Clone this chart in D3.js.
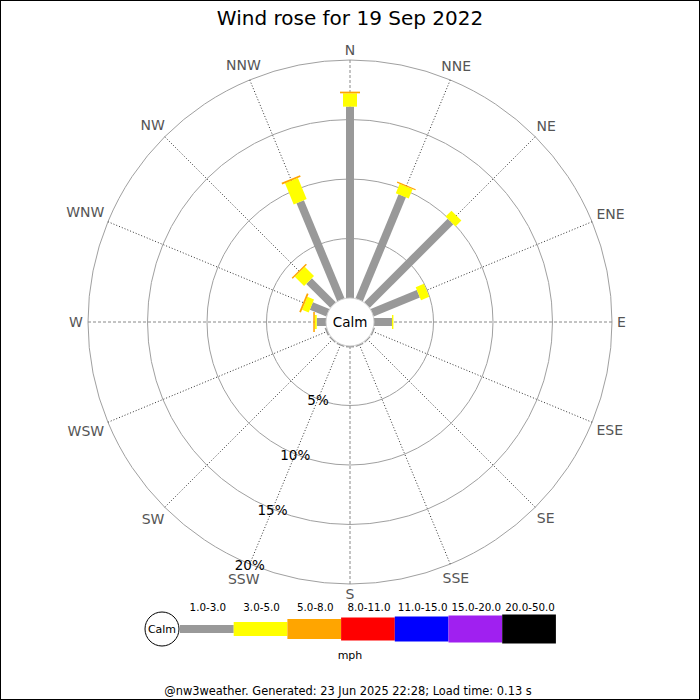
<!DOCTYPE html>
<html>
<head>
<meta charset="utf-8">
<script src="https://cdn.jsdelivr.net/npm/d3@7"></script>
<style>
  html, body { margin: 0; padding: 0; background: #fff; }
  svg { display: block; font-family: "DejaVu Sans", sans-serif; }
</style>
</head>
<body>
<svg id="chart" width="700" height="700"></svg>
<script>
// ---- data ----
const directions = ["N","NNE","NE","ENE","E","ESE","SE","SSE","S","SSW","SW","WSW","W","WNW","NW","NNW"];
const speedBands = ["1.0-3.0","3.0-5.0","5.0-8.0","8.0-11.0","11.0-15.0","15.0-20.0","20.0-50.0"];
const bandColors = ["#999999","#ffff00","#ffa500","#ff0000","#0000ff","#a020f0","#000000"];
// percentages per direction for each speed band
const band1 = [16.08, 9.46, 9.93, 4.2, 1.51, 0.12, 0.1, 0.12, 0.12, 0.12, 0.12, 0.15, 0.78, 1.5, 2.85, 8.92];
const band2 = [1.12, 0.85, 0.7, 0.75, 0.12, 0, 0, 0, 0, 0, 0, 0, 0.16, 0.6, 1.1, 1.92];
const band3 = [0.14, 0.1, 0, 0, 0, 0, 0, 0, 0, 0, 0, 0, 0.13, 0.15, 0.12, 0.15];
const band4 = new Array(16).fill(0);
const band5 = new Array(16).fill(0);
const band6 = new Array(16).fill(0);
const band7 = new Array(16).fill(0);
const ringTicks = [5, 10, 15, 20];
const ringLabels = ["5%", "10%", "15%", "20%"];
const titleText = "Wind rose for 19 Sep 2022";
const footerText = "@nw3weather. Generated: 23 Jun 2025 22:28; Load time: 0.13 s";
const unitText = "mph";
const calmText = "Calm";

// ---- layout ----
const svg = d3.select("#chart");
const W = 700, H = 700;
const cx = 350, cy = 322;
const calmR = 24;
const r = d3.scaleLinear().domain([0, 20]).range([calmR, 262]);
const angle = d3.scalePoint().domain(directions).range([0, 360 - 22.5]);
const bandWidths = [8, 14, 20, 23, 25, 27, 29];
const bands = [band1, band2, band3, band4, band5, band6, band7];

svg.append("rect").attr("x", 0).attr("y", 0).attr("width", W).attr("height", H).attr("fill", "#fff");

// title
svg.append("text").attr("x", cx).attr("y", 25).attr("text-anchor", "middle")
  .attr("font-size", 20).attr("fill", "#000").text(titleText);

const g = svg.append("g").attr("transform", `translate(${cx},${cy})`);

// rings
g.selectAll("circle.ring").data(ringTicks).enter().append("circle")
  .attr("class", "ring").attr("r", d => r(d))
  .attr("fill", "none").attr("stroke", "#a0a0a0").attr("stroke-width", 1);

// spokes
const rad = a => (a - 90) * Math.PI / 180;
directions.forEach((d, i) => {
  const a = angle(d);
  const cardinal = i % 4 === 0;
  g.append("line")
    .attr("x1", calmR * Math.cos(rad(a))).attr("y1", calmR * Math.sin(rad(a)))
    .attr("x2", r(20) * Math.cos(rad(a))).attr("y2", r(20) * Math.sin(rad(a)))
    .attr("stroke", cardinal ? "#888" : "#333")
    .attr("stroke-width", 1)
    .attr("stroke-dasharray", cardinal ? "3,2" : "1,2");
});

// bars
directions.forEach((d, i) => {
  const a = angle(d);
  const bg = g.append("g").attr("transform", `rotate(${a})`);
  let cum = 0;
  bands.forEach((b, k) => {
    const v = b[i];
    if (v > 0) {
      const r0 = r(cum), r1 = r(cum + v);
      bg.append("rect")
        .attr("x", -bandWidths[k] / 2).attr("y", -r1)
        .attr("width", bandWidths[k]).attr("height", r1 - r0)
        .attr("fill", bandColors[k]);
      cum += v;
    }
  });
});

// calm circle
g.append("circle").attr("r", calmR).attr("fill", "#fff").attr("stroke", "#ccc").attr("stroke-width", 1);
g.append("text").attr("x", 0).attr("y", 5).attr("text-anchor", "middle")
  .attr("font-size", 13.5).attr("fill", "#000").text(calmText);

// ring labels along SSW
const la = angle("SSW");
ringTicks.forEach((t, i) => {
  const rr = r(t);
  g.append("text")
    .attr("x", rr * Math.cos(rad(la))).attr("y", rr * Math.sin(rad(la)) + 6)
    .attr("text-anchor", "middle").attr("font-size", 13.5).attr("fill", "#000")
    .text(ringLabels[i]);
});

// direction labels
directions.forEach(d => {
  const a = angle(d);
  const t = g.append("text").attr("font-size", 14).attr("fill", "#555")
    .attr("text-anchor", "middle").text(d);
  const bb = t.node().getBBox();
  const hw = bb.width / 2, hh = 5;
  const s = Math.sin(a * Math.PI / 180), c = Math.cos(a * Math.PI / 180);
  const R = 267 + hw * Math.abs(s) + hh * Math.abs(c);
  const x = R * s, y = -R * c;
  t.attr("x", x).attr("y", y + 5);
});

// legend
const lx0 = 180, segW = 53.7, ly = 629;
const legend = svg.append("g");
legend.append("circle").attr("cx", 162).attr("cy", ly).attr("r", 17)
  .attr("fill", "#fff").attr("stroke", "#000").attr("stroke-width", 1);
legend.append("text").attr("x", 162).attr("y", ly + 4).attr("text-anchor", "middle")
  .attr("font-size", 11).attr("fill", "#000").text(calmText);
const lxScale = d3.scaleBand().domain(speedBands).range([lx0, lx0 + segW * speedBands.length]).padding(0);
speedBands.forEach((s, k) => {
  legend.append("rect")
    .attr("x", lxScale(s)).attr("y", ly - bandWidths[k] / 2)
    .attr("width", lxScale.bandwidth()).attr("height", bandWidths[k])
    .attr("fill", bandColors[k]);
  legend.append("text")
    .attr("x", lxScale(s) + lxScale.bandwidth() / 2 + 1).attr("y", 611)
    .attr("text-anchor", "middle").attr("font-size", 10.3).attr("fill", "#000")
    .text(s);
});
legend.append("text").attr("x", 350).attr("y", 659).attr("text-anchor", "middle")
  .attr("font-size", 11).attr("fill", "#000").text(unitText);

// footer
svg.append("text").attr("x", 348).attr("y", 695).attr("text-anchor", "middle")
  .attr("font-size", 11.4).attr("fill", "#000").text(footerText);

// frame
svg.append("rect").attr("x", 0.5).attr("y", 0.5).attr("width", W - 1).attr("height", H - 1)
  .attr("fill", "none").attr("stroke", "#000").attr("stroke-width", 1);
</script>
</body>
</html>
